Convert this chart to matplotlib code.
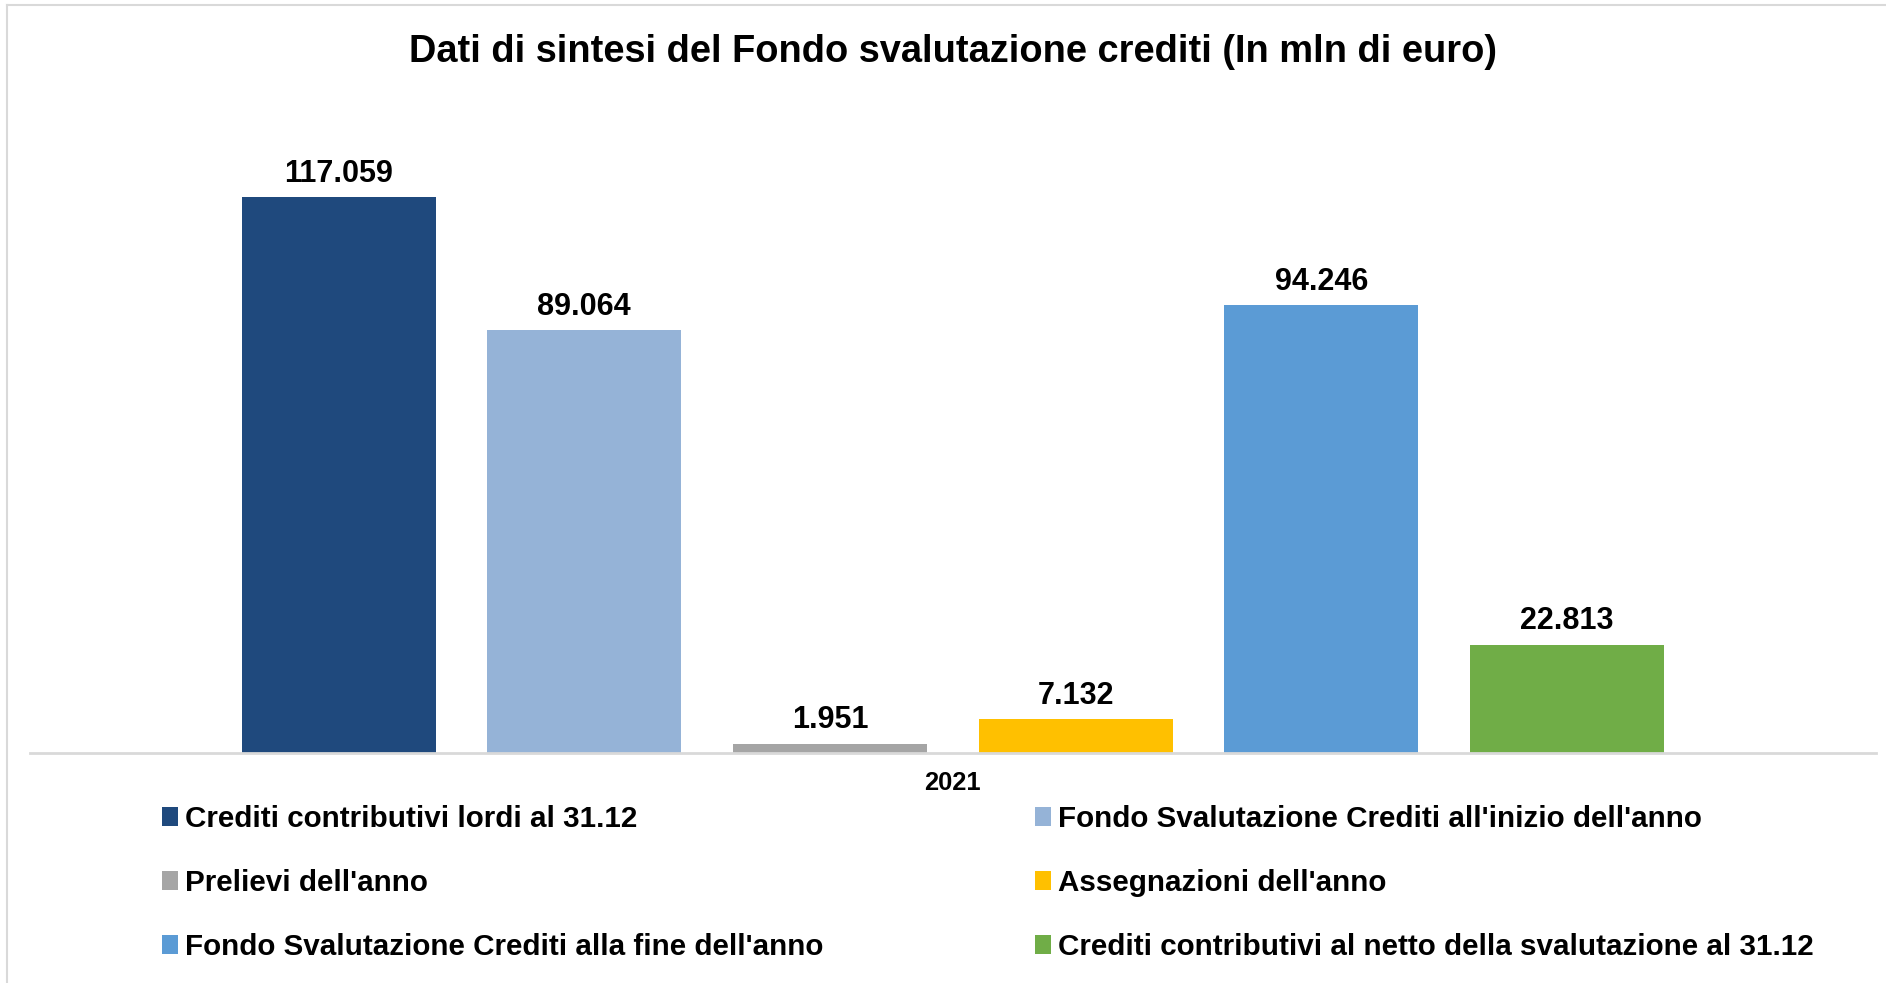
import matplotlib
matplotlib.use("Agg")
import matplotlib.pyplot as plt
from matplotlib.patches import Patch
from matplotlib.lines import Line2D

plt.rcParams['font.family'] = ['Liberation Sans', 'DejaVu Sans']
plt.rcParams['font.weight'] = 'bold'

# dati (mln di euro), anno 2021
anno = "2021"
voci = [
    "Crediti contributivi lordi al 31.12",
    "Fondo Svalutazione Crediti all'inizio dell'anno",
    "Prelievi dell'anno",
    "Assegnazioni dell'anno",
    "Fondo Svalutazione Crediti alla fine dell'anno",
    "Crediti contributivi al netto della svalutazione al 31.12",
]
valori = [117059, 89064, 1951, 7132, 94246, 22813]
colori = ["#1F497D", "#95B3D7", "#A5A5A5", "#FFC000", "#5B9BD5", "#70AD47"]

W, H = 1886, 983
fig = plt.figure(figsize=(W / 100, H / 100), dpi=100)
fig.patch.set_facecolor("white")

# bordo del grafico (in alto e a sinistra)
fig.add_artist(Line2D([7 / W, 1], [1 - 5 / H, 1 - 5 / H], color="#D9D9D9", lw=1.5))
fig.add_artist(Line2D([7 / W, 7 / W], [0, 1 - 5 / H], color="#D9D9D9", lw=1.5))

ax_left, ax_right, ax_top, ax_bot = 30, 1876, 88, 753
ax = fig.add_axes([ax_left / W, 1 - ax_bot / H, (ax_right - ax_left) / W, (ax_bot - ax_top) / H])

x = list(range(len(valori)))
bars = ax.bar(x, valori, width=0.79, color=colori, label=voci)

for b, v in zip(bars, valori):
    ax.annotate(f"{v:,}".replace(",", "."),
                (b.get_x() + b.get_width() / 2, b.get_height()),
                xytext=(0, 6), textcoords="offset points",
                ha="center", va="bottom", fontsize=22, fontweight="bold")

ax.set_xlim(-1.256, 6.258)
ax.set_ylim(0, 140000)
ax.set_yticks([])
ax.set_xticks([2.5])
ax.set_xticklabels([anno], fontsize=18.4, fontweight="bold")
ax.tick_params(axis="x", length=0, pad=13)
for s in ["top", "right", "left"]:
    ax.spines[s].set_visible(False)
ax.spines["bottom"].set_color("#D9D9D9")
ax.spines["bottom"].set_linewidth(2)

fig.text(953 / W, 1 - 52 / H, "Dati di sintesi del Fondo svalutazione crediti (In mln di euro)",
         ha="center", va="center", fontsize=27.4, fontweight="bold")

# legenda: due colonne, riempita per righe
ordine = [0, 2, 4, 1, 3, 5]
handles = [Patch(facecolor=colori[i], edgecolor="none") for i in ordine]
labels = [voci[i] for i in ordine]
fig.legend(handles, labels, loc="upper left", bbox_to_anchor=(162 / W, 1 - 805 / H),
           ncol=2, frameon=False, handlelength=0.53, handleheight=0.61,
           handletextpad=0.24, columnspacing=7.16, labelspacing=1.22, borderaxespad=0,
           borderpad=0, prop={"weight": "bold", "size": 21.3})

fig.savefig("out.png", dpi=100, facecolor="white")
